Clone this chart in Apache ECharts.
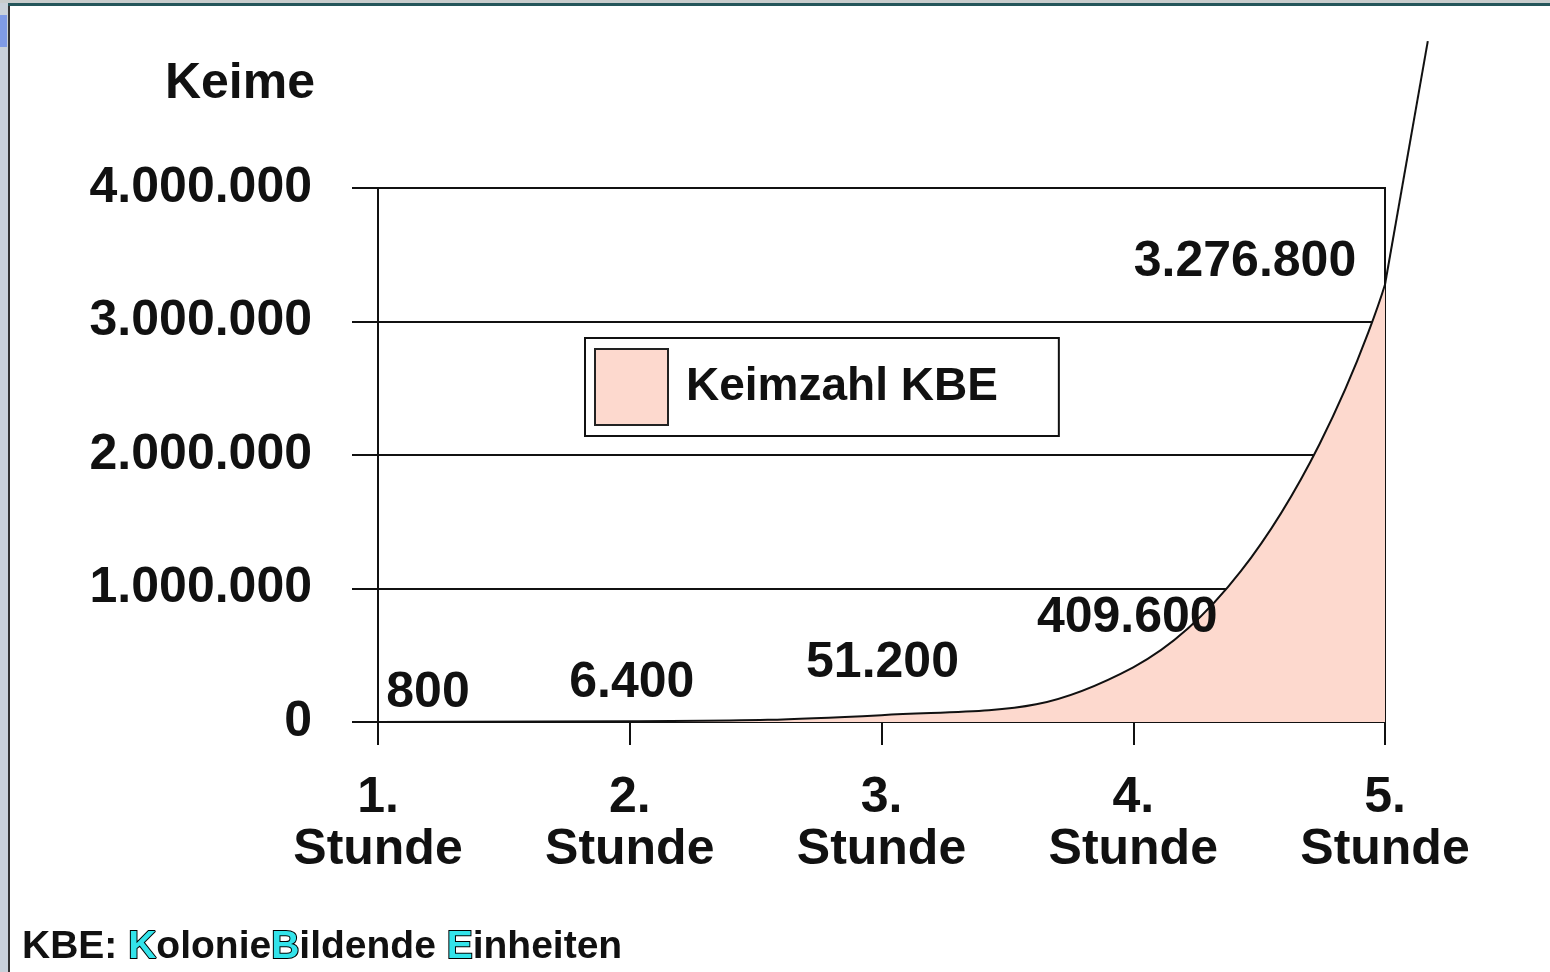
<!DOCTYPE html>
<html>
<head>
<meta charset="utf-8">
<title>Keimzahl KBE</title>
<script src="https://cdn.jsdelivr.net/npm/echarts@6/dist/echarts.min.js"></script>
<style>
  html, body { margin: 0; padding: 0; background: #fff; }
  #chart { width: 1550px; height: 972px; }
</style>
</head>
<body>
<div id="chart"></div>
<script>
// values
const hours = [1, 2, 3, 4, 5];
const hourLabels = ["1.\nStunde", "2.\nStunde", "3.\nStunde", "4.\nStunde", "5.\nStunde"];
const keimzahl = [800, 6400, 51200, 409600, 3276800];
const yTicks = [0, 1000000, 2000000, 3000000, 4000000];
// where the drawn curve runs off past the 5th hour (top of the slide)
const tailHour = 5.17;
const tailValue = 5100000;

// label nudges (px) so the numbers sit where the slide has them
const labelOffsets = [[50, -29], [2, -38], [1, -52], [-6, -49], [-140, -22]];

const FONT = "'Liberation Sans', Arial, Helvetica, sans-serif";
const PINK = "#fdd9ce";
const INK = "#111";

// plot box of the main grid
const W = 1550, H = 972;
const G = { left: 378, right: 165, top: 188, bottom: 250 };
const X_MIN = 1, X_MAX = 5, Y_MAX = 4000000;
// a larger invisible grid, same scale, so the curve can run past the frame
const X_MAX2 = 5.2, Y_MAX2 = 5200000;
const pxPerHour = (W - G.left - G.right) / (X_MAX - X_MIN);
const pxPerUnit = (H - G.top - G.bottom) / Y_MAX;
const G2 = {
  left: G.left,
  bottom: G.bottom,
  right: W - G.left - pxPerHour * (X_MAX2 - X_MIN),
  top: H - G.bottom - pxPerUnit * Y_MAX2
};

function dotted(v) {
  return String(Math.round(v)).replace(/\B(?=(\d{3})+(?!\d))/g, ".");
}

const curve = hours.map((h, i) => [h, keimzahl[i]]);
const tail = [[hours[hours.length - 1], keimzahl[keimzahl.length - 1]], [tailHour, tailValue]];
const SMOOTH = 0.5;

const chart = echarts.init(document.getElementById("chart"), null, { renderer: "canvas" });

chart.setOption({
  animation: false,
  backgroundColor: "#fff",
  textStyle: { fontFamily: FONT },
  grid: [
    Object.assign({ show: true, borderColor: INK, borderWidth: 2 }, G),
    Object.assign({ show: false }, G2)
  ],
  legend: {
    data: ["Keimzahl KBE"],
    left: 585,
    top: 338,
    orient: "horizontal",
    icon: "rect",
    itemWidth: 73,
    itemHeight: 76,
    padding: [10, 61, 10, 9],
    borderColor: INK,
    borderWidth: 2,
    backgroundColor: "#fff",
    itemStyle: { color: PINK, borderColor: "#222", borderWidth: 2 },
    textStyle: { fontFamily: FONT, fontSize: 46, fontWeight: "bold", color: INK, padding: [0, 0, 0, 13] }
  },
  xAxis: [
    {
      type: "value",
      gridIndex: 0,
      min: X_MIN,
      max: X_MAX,
      interval: 1,
      axisLine: { show: true, onZero: false, lineStyle: { color: INK, width: 2 } },
      axisTick: { show: true, length: 23, lineStyle: { color: INK, width: 2 } },
      splitLine: { show: false },
      axisLabel: {
        margin: 50,
        fontFamily: FONT,
        fontSize: 50,
        fontWeight: "bold",
        color: INK,
        lineHeight: 52,
        formatter: (v) => {
          const i = hours.indexOf(v);
          return i >= 0 ? hourLabels[i] : "";
        }
      }
    },
    { type: "value", gridIndex: 1, min: X_MIN, max: X_MAX2, show: false }
  ],
  yAxis: [
    {
      type: "value",
      gridIndex: 0,
      min: 0,
      max: Y_MAX,
      interval: 1000000,
      name: "Keime",
      nameLocation: "end",
      nameGap: 104,
      nameTextStyle: {
        fontFamily: FONT,
        fontSize: 50,
        fontWeight: "bold",
        color: INK,
        align: "right",
        verticalAlign: "middle",
        padding: [0, 63, 0, 0]
      },
      axisLine: { show: true, lineStyle: { color: INK, width: 2 } },
      axisTick: { show: true, length: 26, lineStyle: { color: INK, width: 2 } },
      splitLine: { show: true, lineStyle: { color: INK, width: 2 } },
      axisLabel: {
        margin: 66,
        fontFamily: FONT,
        fontSize: 50,
        fontWeight: "bold",
        color: INK,
        formatter: (v) => (yTicks.indexOf(v) >= 0 ? dotted(v) : "")
      }
    },
    { type: "value", gridIndex: 1, min: 0, max: Y_MAX2, show: false }
  ],
  series: [
    {
      name: "Keimzahl KBE",
      type: "line",
      xAxisIndex: 0,
      yAxisIndex: 0,
      data: curve,
      smooth: SMOOTH,
      symbol: "none",
      lineStyle: { color: INK, width: 2 },
      itemStyle: { color: PINK },
      areaStyle: { color: PINK, opacity: 1 },
      z: 2
    },
    {
      name: "Verlauf",
      type: "line",
      xAxisIndex: 1,
      yAxisIndex: 1,
      data: tail,
      smooth: false,
      symbol: "none",
      lineStyle: { color: INK, width: 2 },
      z: 3
    },
    {
      name: "Werte",
      type: "scatter",
      xAxisIndex: 0,
      yAxisIndex: 0,
      data: hours.map((h, i) => ({
        value: [h, keimzahl[i]],
        label: { offset: labelOffsets[i] }
      })),
      symbolSize: 1,
      itemStyle: { color: "transparent" },
      silent: true,
      z: 4,
      label: {
        show: true,
        position: "inside",
        fontFamily: FONT,
        fontSize: 50,
        fontWeight: "bold",
        color: INK,
        textBorderWidth: 0,
        opacity: 1,
        formatter: (p) => dotted(p.value[1])
      }
    }
  ],
  graphic: [
    // slide frame bits
    { type: "rect", left: 0, top: 0, shape: { width: 8, height: 972 }, style: { fill: "#c9d1da" }, silent: true },
    { type: "rect", left: 0, top: 15, shape: { width: 7, height: 32 }, style: { fill: "#7f9be6" }, silent: true },
    { type: "rect", left: 8, top: 0, shape: { width: 2, height: 972 }, style: { fill: "#333" }, silent: true },
    { type: "rect", left: 0, top: 0, shape: { width: 1550, height: 3 }, style: { fill: "#c8cccc" }, silent: true },
    { type: "rect", left: 8, top: 3, shape: { width: 1542, height: 3 }, style: { fill: "#24555a" }, silent: true },
    {
      type: "text",
      left: 22,
      top: 927,
      silent: true,
      style: {
        text: "KBE: {h|K}olonie{h|B}ildende {h|E}inheiten",
        font: "bold 39px " + FONT,
        fill: INK,
        rich: {
          h: {
            font: "bold 39px " + FONT,
            fill: "#33e3ea",
            stroke: "#000",
            lineWidth: 2
          }
        }
      }
    }
  ]
});
</script>
</body>
</html>
